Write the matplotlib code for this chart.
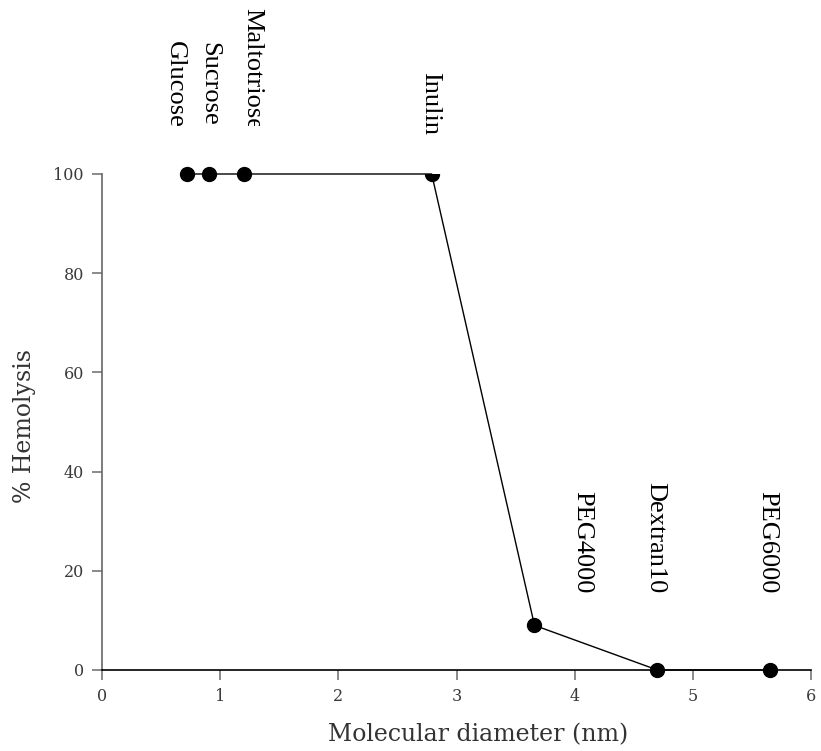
import matplotlib
matplotlib.use("Agg")
import matplotlib.pyplot as plt
from matplotlib.transforms import Bbox

# Data
compounds = ["Glucose", "Sucrose", "Maltotriose", "Inulin", "PEG4000", "Dextran10", "PEG6000"]
diameter_nm = [0.72, 0.905, 1.20, 2.79, 3.66, 4.70, 5.65]
hemolysis_pct = [100, 100, 100, 100, 9, 0, 0]

# Label placement (annotation positions in data coords: x, end-of-text y)
label_x = [0.62, 0.91, 1.27, 2.78, 4.06, 4.68, 5.63]
label_y = [109.3, 109.8, 108.8, 107.9, 15.5, 15.5, 15.5]
marker_clipped = [False, False, False, True, False, False, False]

xticks = [0, 1, 2, 3, 4, 5, 6]
yticks = [0, 20, 40, 60, 80, 100]

W, H = 821, 751
fig = plt.figure(figsize=(W / 100, H / 100), dpi=100)
ax = fig.add_axes([102 / W, 1 - 670 / H, (811 - 102) / W, (670 - 174) / H])

ax.plot(diameter_nm, hemolysis_pct, color="black", lw=1.0, clip_on=False, zorder=3)
for x, y, c in zip(diameter_nm, hemolysis_pct, marker_clipped):
    ln, = ax.plot([x], [y], "o", color="black", ms=10, clip_on=c, zorder=4)
    if c:
        ln.set_clip_box(ax.bbox)

ax.set_xlim(0, 6)
ax.set_ylim(0, 100)
ax.set_xticks(xticks)
ax.set_yticks(yticks)

tick_font = {"family": "DejaVu Serif", "size": 11.5}
ax.set_xticklabels([str(t) for t in xticks], fontdict=tick_font, color="#3a3a3a")
ax.set_yticklabels([str(t) for t in yticks], fontdict=tick_font, color="#3a3a3a")
ax.tick_params(axis="both", direction="out", length=7, width=1.2, color="#777777", pad=6)

for s in ["top", "right"]:
    ax.spines[s].set_visible(False)
ax.spines["left"].set_color("#666666")
ax.spines["left"].set_linewidth(1.2)
ax.spines["bottom"].set_color("black")
ax.spines["bottom"].set_linewidth(1.2)
ax.spines["bottom"].set_zorder(5)

ax.set_xlabel("Molecular diameter (nm)", fontfamily="DejaVu Serif", fontsize=17,
              color="#333333")
ax.set_ylabel("% Hemolysis", fontfamily="DejaVu Serif", fontsize=17,
              color="#333333")
ax.xaxis.set_label_coords((478 - 102) / 709, -0.108)
ax.yaxis.set_label_coords(-0.093, (670 - 426) / 496)

# clip region for the top-edge label (display coords, origin bottom-left)
clip_bbox = Bbox.from_extents(0, H - 126, W, H)

for name, lx, ly in zip(compounds, label_x, label_y):
    t = ax.text(lx, ly, name, rotation=270, ha="center", va="bottom",
                fontfamily="Liberation Serif", fontsize=19, color="black",
                clip_on=False)
    if name == "Maltotriose":
        t.set_clip_on(True)
        t.set_clip_path(None)
        t.set_clip_box(clip_bbox)

fig.savefig("out.png", dpi=100)
